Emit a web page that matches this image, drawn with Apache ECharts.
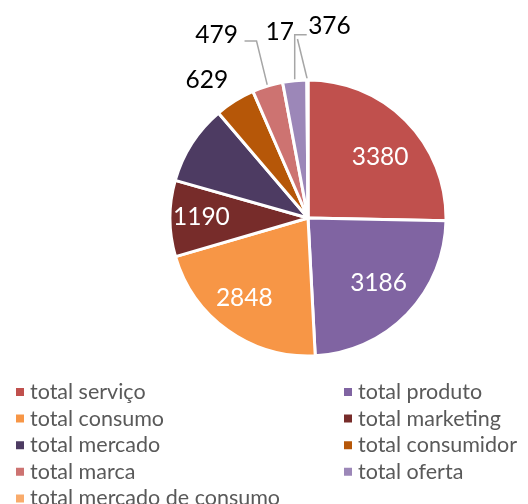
<!DOCTYPE html>
<html><head><meta charset="utf-8">
<script src="https://cdn.jsdelivr.net/npm/echarts@6/dist/echarts.min.js"></script>
<style>html,body{margin:0;padding:0;background:#fff}#c{width:528px;height:504px}</style>
</head><body><div id="c"></div>
<script>
const categories = ['total serviço','total produto','total consumo','total marketing','total mercado','total consumidor','total marca','total oferta','total mercado de consumo'];
const values = [3380, 3186, 2848, 1190, 1250, 629, 479, 376, 17];
const labelTexts = ['3380','3186','2848','1190','','629','479','17','376'];
const leftLegend = ['total serviço','total consumo','total mercado','total marca','total mercado de consumo'];
const rightLegend = ['total produto','total marketing','total consumidor','total oferta'];

// styling
const colors = ['#C0504D','#8064A2','#F79646','#772C2A','#4D3B62','#B65708','#CD7371','#9C87B8','#F9AB6B'];
const insideOffsets = {0:[1,9],1:[-1,-4],2:[-6,-1],3:[-7,-1]};
// outside label placement relative to the slice's outer edge point
const outsideCfg = {
  5:{label:[-28,-21], line:[[0,0],[0,0]]},
  6:{label:[-51,-51], line:[[0,0],[-11,-45],[-23,-45]]},
  7:{label:[-15,-49], line:[[0,0],[0,-46],[12,-46]]},
  8:{label:[22,-54], line:[[0,0],[-10,-41]]}
};
const FONT = 'Lato';
const C = ['308px','218px'], R = 138;

const chart = echarts.init(document.getElementById('c'));
const mainData = categories.map((n,i)=>({
  name:n, value:values[i],
  itemStyle:{color:colors[i]},
  label:{show: outsideCfg[i]!==undefined},
  labelLine:{show: outsideCfg[i]!==undefined}
}));
const overlayData = categories.map((n,i)=>({
  name:n, value:values[i],
  itemStyle:{color:'rgba(0,0,0,0)', borderWidth:0},
  label:{show: insideOffsets[i]!==undefined, offset: insideOffsets[i]||[0,0]}
}));
const legendCommon = {orient:'vertical', top:381, height:160, padding:0, icon:'rect', itemWidth:10, itemHeight:10, itemGap:4.6,
  textStyle:{fontFamily:FONT, fontSize:21.5, color:'#595959'}, selectedMode:false};
chart.setOption({
  animation:false,
  color: colors,
  legend:[
    Object.assign({data:leftLegend, left:14}, legendCommon),
    Object.assign({data:rightLegend, left:342}, legendCommon)
  ],
  series:[
    {type:'pie', center:C, radius:[0,R], startAngle:90, clockwise:true, avoidLabelOverlap:false,
     itemStyle:{borderColor:'#fff', borderWidth:3},
     label:{position:'outside', formatter:p=>labelTexts[p.dataIndex], fontFamily:FONT, fontSize:24.5, color:'#000'},
     labelLine:{length:30, length2:8, lineStyle:{color:'#A6A6A6', width:1.5}},
     labelLayout:function(p){
       const cfg = outsideCfg[p.dataIndex];
       if(!cfg || !p.labelLinePoints) return {hideOverlap:false};
       const E = p.labelLinePoints[0];
       return {x:E[0]+cfg.label[0], y:E[1]+cfg.label[1], align:'center', verticalAlign:'middle', hideOverlap:false,
               labelLinePoints: cfg.line.map(o=>[E[0]+o[0], E[1]+o[1]])};
     },
     data:mainData},
    {type:'pie', center:C, radius:[R*0.4,R], startAngle:90, clockwise:true, silent:true, avoidLabelOverlap:false,
     label:{position:'inside', formatter:p=>labelTexts[p.dataIndex], fontFamily:FONT, fontSize:24.5, color:'#fff'},
     labelLine:{show:false},
     data:overlayData}
  ]
});
</script></body></html>
